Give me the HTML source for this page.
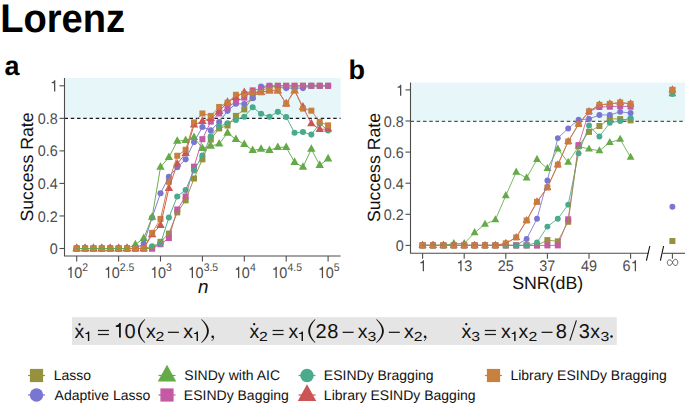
<!DOCTYPE html>
<html><head><meta charset="utf-8"><title>Lorenz</title>
<style>
html,body{margin:0;padding:0;background:#fff;}
body{width:685px;height:407px;overflow:hidden;position:relative;font-family:"Liberation Sans",sans-serif;}
svg{position:absolute;left:0;top:0;display:block;}
</style></head><body>
<svg width="685" height="407" viewBox="0 0 685 407" text-rendering="geometricPrecision">
<style>
text{font-family:"Liberation Sans",sans-serif;}
.tk{font-size:14.5px;fill:#4d4d4d;}
.xl{font-size:16.5px;fill:#111;}
.yl{font-size:17.7px;fill:#111;}
.lg{font-size:14px;fill:#111;}
.eq{font-size:20px;fill:#111;}
</style>
<text transform="translate(0.15 32.4) scale(0.988 1.04)" font-size="38.6" font-weight="bold" fill="#000">Lorenz</text>
<text x="4.5" y="75.1" font-size="26.9" font-weight="bold" fill="#000">a</text>
<text x="348.5" y="78.9" font-size="27" font-weight="bold" fill="#000">b</text>
<rect x="65" y="78" width="275.6" height="40.4" fill="#e7f7f9"/>
<line x1="64.5" y1="118.4" x2="340.6" y2="118.4" stroke="#1a1a1a" stroke-width="1.3" stroke-dasharray="3.5 2.75"/>
<rect x="73.7" y="245.5" width="6" height="6" fill="#96913c"/>
<rect x="82.08" y="245.5" width="6" height="6" fill="#96913c"/>
<rect x="90.46" y="245.5" width="6" height="6" fill="#96913c"/>
<rect x="98.84" y="245.5" width="6" height="6" fill="#96913c"/>
<rect x="107.22" y="245.5" width="6" height="6" fill="#96913c"/>
<rect x="115.6" y="245.5" width="6" height="6" fill="#96913c"/>
<rect x="123.98" y="245.5" width="6" height="6" fill="#96913c"/>
<rect x="132.36" y="245.5" width="6" height="6" fill="#96913c"/>
<rect x="140.74" y="245.5" width="6" height="6" fill="#96913c"/>
<rect x="149.12" y="245.5" width="6" height="6" fill="#96913c"/>
<rect x="157.5" y="238.83" width="6" height="6" fill="#96913c"/>
<rect x="165.88" y="230.53" width="6" height="6" fill="#96913c"/>
<rect x="174.26" y="209.38" width="6" height="6" fill="#96913c"/>
<rect x="182.64" y="197.34" width="6" height="6" fill="#96913c"/>
<rect x="191.02" y="175.54" width="6" height="6" fill="#96913c"/>
<rect x="199.4" y="156.34" width="6" height="6" fill="#96913c"/>
<rect x="207.78" y="136.49" width="6" height="6" fill="#96913c"/>
<rect x="216.16" y="125.43" width="6" height="6" fill="#96913c"/>
<rect x="224.54" y="122.5" width="6" height="6" fill="#96913c"/>
<rect x="232.92" y="112.9" width="6" height="6" fill="#96913c"/>
<rect x="241.3" y="106.39" width="6" height="6" fill="#96913c"/>
<rect x="249.68" y="94.19" width="6" height="6" fill="#96913c"/>
<rect x="258.06" y="87.68" width="6" height="6" fill="#96913c"/>
<rect x="266.44" y="84.43" width="6" height="6" fill="#96913c"/>
<rect x="274.82" y="82.8" width="6" height="6" fill="#96913c"/>
<rect x="283.2" y="82.8" width="6" height="6" fill="#96913c"/>
<rect x="291.58" y="82.8" width="6" height="6" fill="#96913c"/>
<rect x="299.96" y="82.8" width="6" height="6" fill="#96913c"/>
<rect x="308.34" y="82.8" width="6" height="6" fill="#96913c"/>
<rect x="316.72" y="82.8" width="6" height="6" fill="#96913c"/>
<rect x="325.1" y="82.8" width="6" height="6" fill="#96913c"/>
<circle cx="76.7" cy="248.5" r="3.05" fill="#7876d0"/>
<circle cx="85.08" cy="248.5" r="3.05" fill="#7876d0"/>
<circle cx="93.46" cy="248.5" r="3.05" fill="#7876d0"/>
<circle cx="101.84" cy="248.5" r="3.05" fill="#7876d0"/>
<circle cx="110.22" cy="248.5" r="3.05" fill="#7876d0"/>
<circle cx="118.6" cy="248.5" r="3.05" fill="#7876d0"/>
<circle cx="126.98" cy="248.5" r="3.05" fill="#7876d0"/>
<circle cx="135.36" cy="248.5" r="3.05" fill="#7876d0"/>
<circle cx="143.74" cy="243.62" r="3.05" fill="#7876d0"/>
<circle cx="152.12" cy="217.59" r="3.05" fill="#7876d0"/>
<circle cx="160.5" cy="193.18" r="3.05" fill="#7876d0"/>
<circle cx="168.88" cy="176.91" r="3.05" fill="#7876d0"/>
<circle cx="177.26" cy="167.15" r="3.05" fill="#7876d0"/>
<circle cx="185.64" cy="159.34" r="3.05" fill="#7876d0"/>
<circle cx="194.02" cy="142.09" r="3.05" fill="#7876d0"/>
<circle cx="202.4" cy="126.96" r="3.05" fill="#7876d0"/>
<circle cx="210.78" cy="130.38" r="3.05" fill="#7876d0"/>
<circle cx="219.16" cy="122.08" r="3.05" fill="#7876d0"/>
<circle cx="227.54" cy="110.86" r="3.05" fill="#7876d0"/>
<circle cx="235.92" cy="103.7" r="3.05" fill="#7876d0"/>
<circle cx="244.3" cy="104.02" r="3.05" fill="#7876d0"/>
<circle cx="252.68" cy="98.17" r="3.05" fill="#7876d0"/>
<circle cx="261.06" cy="86.45" r="3.05" fill="#7876d0"/>
<circle cx="269.44" cy="85.8" r="3.05" fill="#7876d0"/>
<circle cx="277.82" cy="87.43" r="3.05" fill="#7876d0"/>
<circle cx="286.2" cy="88.08" r="3.05" fill="#7876d0"/>
<circle cx="294.58" cy="88.08" r="3.05" fill="#7876d0"/>
<circle cx="302.96" cy="88.08" r="3.05" fill="#7876d0"/>
<circle cx="311.34" cy="85.8" r="3.05" fill="#7876d0"/>
<circle cx="319.72" cy="85.8" r="3.05" fill="#7876d0"/>
<circle cx="328.1" cy="85.8" r="3.05" fill="#7876d0"/>
<path d="M76.7 243.6L80.9 251.2L72.5 251.2Z" fill="#64aa48"/>
<path d="M85.08 243.6L89.28 251.2L80.88 251.2Z" fill="#64aa48"/>
<path d="M93.46 243.6L97.66 251.2L89.26 251.2Z" fill="#64aa48"/>
<path d="M101.84 243.6L106.04 251.2L97.64 251.2Z" fill="#64aa48"/>
<path d="M110.22 243.6L114.42 251.2L106.02 251.2Z" fill="#64aa48"/>
<path d="M118.6 243.6L122.8 251.2L114.4 251.2Z" fill="#64aa48"/>
<path d="M126.98 243.6L131.18 251.2L122.78 251.2Z" fill="#64aa48"/>
<path d="M135.36 239.7L139.56 247.3L131.16 247.3Z" fill="#64aa48"/>
<path d="M143.74 233.51L147.94 241.11L139.54 241.11Z" fill="#64aa48"/>
<path d="M152.12 212.2L156.32 219.8L147.92 219.8Z" fill="#64aa48"/>
<path d="M160.5 162.25L164.7 169.85L156.3 169.85Z" fill="#64aa48"/>
<path d="M168.88 152.49L173.08 160.09L164.68 160.09Z" fill="#64aa48"/>
<path d="M177.26 136.22L181.46 143.82L173.06 143.82Z" fill="#64aa48"/>
<path d="M185.64 135.4L189.84 143L181.44 143Z" fill="#64aa48"/>
<path d="M194.02 132.48L198.22 140.08L189.82 140.08Z" fill="#64aa48"/>
<path d="M202.4 143.38L206.6 150.98L198.2 150.98Z" fill="#64aa48"/>
<path d="M210.78 141.1L214.98 148.7L206.58 148.7Z" fill="#64aa48"/>
<path d="M219.16 138.98L223.36 146.58L214.96 146.58Z" fill="#64aa48"/>
<path d="M227.54 128.08L231.74 135.68L223.34 135.68Z" fill="#64aa48"/>
<path d="M235.92 134.43L240.12 142.03L231.72 142.03Z" fill="#64aa48"/>
<path d="M244.3 139.47L248.5 147.07L240.1 147.07Z" fill="#64aa48"/>
<path d="M252.68 145.49L256.88 153.09L248.48 153.09Z" fill="#64aa48"/>
<path d="M261.06 144.19L265.26 151.79L256.86 151.79Z" fill="#64aa48"/>
<path d="M269.44 145.49L273.64 153.09L265.24 153.09Z" fill="#64aa48"/>
<path d="M277.82 142.4L282.02 150L273.62 150Z" fill="#64aa48"/>
<path d="M286.2 142.4L290.4 150L282 150Z" fill="#64aa48"/>
<path d="M294.58 157.37L298.78 164.97L290.38 164.97Z" fill="#64aa48"/>
<path d="M302.96 162.25L307.16 169.85L298.76 169.85Z" fill="#64aa48"/>
<path d="M311.34 144.19L315.54 151.79L307.14 151.79Z" fill="#64aa48"/>
<path d="M319.72 160.3L323.92 167.9L315.52 167.9Z" fill="#64aa48"/>
<path d="M328.1 153.79L332.3 161.39L323.9 161.39Z" fill="#64aa48"/>
<rect x="73.7" y="245.5" width="6" height="6" fill="#c45aa5"/>
<rect x="82.08" y="245.5" width="6" height="6" fill="#c45aa5"/>
<rect x="90.46" y="245.5" width="6" height="6" fill="#c45aa5"/>
<rect x="98.84" y="245.5" width="6" height="6" fill="#c45aa5"/>
<rect x="107.22" y="245.5" width="6" height="6" fill="#c45aa5"/>
<rect x="115.6" y="245.5" width="6" height="6" fill="#c45aa5"/>
<rect x="123.98" y="245.5" width="6" height="6" fill="#c45aa5"/>
<rect x="132.36" y="245.5" width="6" height="6" fill="#c45aa5"/>
<rect x="140.74" y="245.5" width="6" height="6" fill="#c45aa5"/>
<rect x="149.12" y="245.5" width="6" height="6" fill="#c45aa5"/>
<rect x="157.5" y="241.27" width="6" height="6" fill="#c45aa5"/>
<rect x="165.88" y="235.09" width="6" height="6" fill="#c45aa5"/>
<rect x="174.26" y="206.45" width="6" height="6" fill="#c45aa5"/>
<rect x="182.64" y="193.44" width="6" height="6" fill="#c45aa5"/>
<rect x="191.02" y="163.66" width="6" height="6" fill="#c45aa5"/>
<rect x="199.4" y="136.17" width="6" height="6" fill="#c45aa5"/>
<rect x="207.78" y="118.59" width="6" height="6" fill="#c45aa5"/>
<rect x="216.16" y="110.46" width="6" height="6" fill="#c45aa5"/>
<rect x="224.54" y="104.76" width="6" height="6" fill="#c45aa5"/>
<rect x="232.92" y="98.42" width="6" height="6" fill="#c45aa5"/>
<rect x="241.3" y="94.68" width="6" height="6" fill="#c45aa5"/>
<rect x="249.68" y="87.36" width="6" height="6" fill="#c45aa5"/>
<rect x="258.06" y="85.57" width="6" height="6" fill="#c45aa5"/>
<rect x="266.44" y="82.8" width="6" height="6" fill="#c45aa5"/>
<rect x="274.82" y="82.8" width="6" height="6" fill="#c45aa5"/>
<rect x="283.2" y="82.8" width="6" height="6" fill="#c45aa5"/>
<rect x="291.58" y="82.8" width="6" height="6" fill="#c45aa5"/>
<rect x="299.96" y="82.8" width="6" height="6" fill="#c45aa5"/>
<rect x="308.34" y="82.8" width="6" height="6" fill="#c45aa5"/>
<rect x="316.72" y="82.8" width="6" height="6" fill="#c45aa5"/>
<rect x="325.1" y="82.8" width="6" height="6" fill="#c45aa5"/>
<circle cx="76.7" cy="248.5" r="3.05" fill="#4aaa8c"/>
<circle cx="85.08" cy="248.5" r="3.05" fill="#4aaa8c"/>
<circle cx="93.46" cy="248.5" r="3.05" fill="#4aaa8c"/>
<circle cx="101.84" cy="248.5" r="3.05" fill="#4aaa8c"/>
<circle cx="110.22" cy="248.5" r="3.05" fill="#4aaa8c"/>
<circle cx="118.6" cy="248.5" r="3.05" fill="#4aaa8c"/>
<circle cx="126.98" cy="248.5" r="3.05" fill="#4aaa8c"/>
<circle cx="135.36" cy="248.5" r="3.05" fill="#4aaa8c"/>
<circle cx="143.74" cy="248.5" r="3.05" fill="#4aaa8c"/>
<circle cx="152.12" cy="246.22" r="3.05" fill="#4aaa8c"/>
<circle cx="160.5" cy="243.62" r="3.05" fill="#4aaa8c"/>
<circle cx="168.88" cy="217.59" r="3.05" fill="#4aaa8c"/>
<circle cx="177.26" cy="196.44" r="3.05" fill="#4aaa8c"/>
<circle cx="185.64" cy="189.93" r="3.05" fill="#4aaa8c"/>
<circle cx="194.02" cy="170.4" r="3.05" fill="#4aaa8c"/>
<circle cx="202.4" cy="155.6" r="3.05" fill="#4aaa8c"/>
<circle cx="210.78" cy="136.24" r="3.05" fill="#4aaa8c"/>
<circle cx="219.16" cy="126.48" r="3.05" fill="#4aaa8c"/>
<circle cx="227.54" cy="123.22" r="3.05" fill="#4aaa8c"/>
<circle cx="235.92" cy="119.97" r="3.05" fill="#4aaa8c"/>
<circle cx="244.3" cy="116.71" r="3.05" fill="#4aaa8c"/>
<circle cx="252.68" cy="107.28" r="3.05" fill="#4aaa8c"/>
<circle cx="261.06" cy="113.78" r="3.05" fill="#4aaa8c"/>
<circle cx="269.44" cy="116.71" r="3.05" fill="#4aaa8c"/>
<circle cx="277.82" cy="111.83" r="3.05" fill="#4aaa8c"/>
<circle cx="286.2" cy="117.04" r="3.05" fill="#4aaa8c"/>
<circle cx="294.58" cy="132.82" r="3.05" fill="#4aaa8c"/>
<circle cx="302.96" cy="132.01" r="3.05" fill="#4aaa8c"/>
<circle cx="311.34" cy="134.61" r="3.05" fill="#4aaa8c"/>
<circle cx="319.72" cy="123.55" r="3.05" fill="#4aaa8c"/>
<circle cx="328.1" cy="130.38" r="3.05" fill="#4aaa8c"/>
<path d="M76.7 243.6L80.9 251.2L72.5 251.2Z" fill="#cc5454"/>
<path d="M85.08 243.6L89.28 251.2L80.88 251.2Z" fill="#cc5454"/>
<path d="M93.46 243.6L97.66 251.2L89.26 251.2Z" fill="#cc5454"/>
<path d="M101.84 243.6L106.04 251.2L97.64 251.2Z" fill="#cc5454"/>
<path d="M110.22 243.6L114.42 251.2L106.02 251.2Z" fill="#cc5454"/>
<path d="M118.6 243.6L122.8 251.2L114.4 251.2Z" fill="#cc5454"/>
<path d="M126.98 243.6L131.18 251.2L122.78 251.2Z" fill="#cc5454"/>
<path d="M135.36 243.6L139.56 251.2L131.16 251.2Z" fill="#cc5454"/>
<path d="M143.74 243.6L147.94 251.2L139.54 251.2Z" fill="#cc5454"/>
<path d="M152.12 229.61L156.32 237.21L147.92 237.21Z" fill="#cc5454"/>
<path d="M160.5 220.33L164.7 227.93L156.3 227.93Z" fill="#cc5454"/>
<path d="M168.88 183.4L173.08 191L164.68 191Z" fill="#cc5454"/>
<path d="M177.26 159L181.46 166.6L173.06 166.6Z" fill="#cc5454"/>
<path d="M185.64 148.42L189.84 156.02L181.44 156.02Z" fill="#cc5454"/>
<path d="M194.02 119.95L198.22 127.55L189.82 127.55Z" fill="#cc5454"/>
<path d="M202.4 116.37L206.6 123.97L198.2 123.97Z" fill="#cc5454"/>
<path d="M210.78 113.44L214.98 121.04L206.58 121.04Z" fill="#cc5454"/>
<path d="M219.16 106.44L223.36 114.04L214.96 114.04Z" fill="#cc5454"/>
<path d="M227.54 97.17L231.74 104.77L223.34 104.77Z" fill="#cc5454"/>
<path d="M235.92 92.29L240.12 99.89L231.72 99.89Z" fill="#cc5454"/>
<path d="M244.3 87.41L248.5 95.01L240.1 95.01Z" fill="#cc5454"/>
<path d="M252.68 87.41L256.88 95.01L248.48 95.01Z" fill="#cc5454"/>
<path d="M261.06 87.41L265.26 95.01L256.86 95.01Z" fill="#cc5454"/>
<path d="M269.44 85.78L273.64 93.38L265.24 93.38Z" fill="#cc5454"/>
<path d="M277.82 85.78L282.02 93.38L273.62 93.38Z" fill="#cc5454"/>
<path d="M286.2 98.8L290.4 106.4L282 106.4Z" fill="#cc5454"/>
<path d="M294.58 85.78L298.78 93.38L290.38 93.38Z" fill="#cc5454"/>
<path d="M302.96 102.05L307.16 109.65L298.76 109.65Z" fill="#cc5454"/>
<path d="M311.34 118.65L315.54 126.25L307.14 126.25Z" fill="#cc5454"/>
<path d="M319.72 124.5L323.92 132.1L315.52 132.1Z" fill="#cc5454"/>
<path d="M328.1 124.02L332.3 131.62L323.9 131.62Z" fill="#cc5454"/>
<rect x="73.7" y="245.5" width="6" height="6" fill="#c8803e"/>
<rect x="82.08" y="245.5" width="6" height="6" fill="#c8803e"/>
<rect x="90.46" y="245.5" width="6" height="6" fill="#c8803e"/>
<rect x="98.84" y="245.5" width="6" height="6" fill="#c8803e"/>
<rect x="107.22" y="245.5" width="6" height="6" fill="#c8803e"/>
<rect x="115.6" y="245.5" width="6" height="6" fill="#c8803e"/>
<rect x="123.98" y="245.5" width="6" height="6" fill="#c8803e"/>
<rect x="132.36" y="245.5" width="6" height="6" fill="#c8803e"/>
<rect x="140.74" y="245.5" width="6" height="6" fill="#c8803e"/>
<rect x="149.12" y="229.88" width="6" height="6" fill="#c8803e"/>
<rect x="157.5" y="215.89" width="6" height="6" fill="#c8803e"/>
<rect x="165.88" y="178.79" width="6" height="6" fill="#c8803e"/>
<rect x="174.26" y="152.76" width="6" height="6" fill="#c8803e"/>
<rect x="182.64" y="146.74" width="6" height="6" fill="#c8803e"/>
<rect x="191.02" y="119.41" width="6" height="6" fill="#c8803e"/>
<rect x="199.4" y="110.46" width="6" height="6" fill="#c8803e"/>
<rect x="207.78" y="112.9" width="6" height="6" fill="#c8803e"/>
<rect x="216.16" y="103.95" width="6" height="6" fill="#c8803e"/>
<rect x="224.54" y="99.72" width="6" height="6" fill="#c8803e"/>
<rect x="232.92" y="91.75" width="6" height="6" fill="#c8803e"/>
<rect x="241.3" y="90.94" width="6" height="6" fill="#c8803e"/>
<rect x="249.68" y="89.31" width="6" height="6" fill="#c8803e"/>
<rect x="258.06" y="89.31" width="6" height="6" fill="#c8803e"/>
<rect x="266.44" y="87.36" width="6" height="6" fill="#c8803e"/>
<rect x="274.82" y="87.36" width="6" height="6" fill="#c8803e"/>
<rect x="283.2" y="100.86" width="6" height="6" fill="#c8803e"/>
<rect x="291.58" y="87.03" width="6" height="6" fill="#c8803e"/>
<rect x="299.96" y="105.58" width="6" height="6" fill="#c8803e"/>
<rect x="308.34" y="107.69" width="6" height="6" fill="#c8803e"/>
<rect x="316.72" y="118.92" width="6" height="6" fill="#c8803e"/>
<rect x="325.1" y="122.34" width="6" height="6" fill="#c8803e"/>
<polyline points="76.7,248.5 85.08,248.5 93.46,248.5 101.84,248.5 110.22,248.5 118.6,248.5 126.98,248.5 135.36,248.5 143.74,243.62 152.12,217.59 160.5,193.18 168.88,176.91 177.26,167.15 185.64,159.34 194.02,142.09 202.4,126.96 210.78,130.38 219.16,122.08 227.54,110.86 235.92,103.7 244.3,104.02 252.68,98.17 261.06,86.45 269.44,85.8 277.82,87.43 286.2,88.08 294.58,88.08 302.96,88.08 311.34,85.8 319.72,85.8 328.1,85.8" fill="none" stroke="#7876d0" stroke-width="0.95" stroke-linejoin="round"/>
<polyline points="76.7,248.5 85.08,248.5 93.46,248.5 101.84,248.5 110.22,248.5 118.6,248.5 126.98,248.5 135.36,248.5 143.74,248.5 152.12,248.5 160.5,244.27 168.88,238.09 177.26,209.45 185.64,196.44 194.02,166.66 202.4,139.17 210.78,121.59 219.16,113.46 227.54,107.76 235.92,101.42 244.3,97.68 252.68,90.36 261.06,88.57 269.44,85.8 277.82,85.8 286.2,85.8 294.58,85.8 302.96,85.8 311.34,85.8 319.72,85.8 328.1,85.8" fill="none" stroke="#c45aa5" stroke-width="0.95" stroke-linejoin="round"/>
<polyline points="76.7,248.5 85.08,248.5 93.46,248.5 101.84,248.5 110.22,248.5 118.6,248.5 126.98,248.5 135.36,248.5 143.74,248.5 152.12,246.22 160.5,243.62 168.88,217.59 177.26,196.44 185.64,189.93 194.02,170.4 202.4,155.6 210.78,136.24 219.16,126.48 227.54,123.22 235.92,119.97 244.3,116.71 252.68,107.28 261.06,113.78 269.44,116.71 277.82,111.83 286.2,117.04 294.58,132.82 302.96,132.01 311.34,134.61 319.72,123.55 328.1,130.38" fill="none" stroke="#4aaa8c" stroke-width="0.95" stroke-linejoin="round"/>
<polyline points="76.7,248.5 85.08,248.5 93.46,248.5 101.84,248.5 110.22,248.5 118.6,248.5 126.98,248.5 135.36,248.5 143.74,248.5 152.12,248.5 160.5,241.83 168.88,233.53 177.26,212.38 185.64,200.34 194.02,178.54 202.4,159.34 210.78,139.49 219.16,128.43 227.54,125.5 235.92,115.9 244.3,109.39 252.68,97.19 261.06,90.68 269.44,87.43 277.82,85.8 286.2,85.8 294.58,85.8 302.96,85.8 311.34,85.8 319.72,85.8 328.1,85.8" fill="none" stroke="#96913c" stroke-width="0.95" stroke-linejoin="round"/>
<polyline points="76.7,248.5 85.08,248.5 93.46,248.5 101.84,248.5 110.22,248.5 118.6,248.5 126.98,248.5 135.36,248.5 143.74,248.5 152.12,234.51 160.5,225.23 168.88,188.3 177.26,163.9 185.64,153.32 194.02,124.85 202.4,121.27 210.78,118.34 219.16,111.34 227.54,102.07 235.92,97.19 244.3,92.31 252.68,92.31 261.06,92.31 269.44,90.68 277.82,90.68 286.2,103.7 294.58,90.68 302.96,106.95 311.34,123.55 319.72,129.4 328.1,128.92" fill="none" stroke="#cc5454" stroke-width="0.95" stroke-linejoin="round"/>
<polyline points="76.7,248.5 85.08,248.5 93.46,248.5 101.84,248.5 110.22,248.5 118.6,248.5 126.98,248.5 135.36,248.5 143.74,248.5 152.12,232.88 160.5,218.89 168.88,181.79 177.26,155.76 185.64,149.74 194.02,122.41 202.4,113.46 210.78,115.9 219.16,106.95 227.54,102.72 235.92,94.75 244.3,93.94 252.68,92.31 261.06,92.31 269.44,90.36 277.82,90.36 286.2,103.86 294.58,90.03 302.96,108.58 311.34,110.69 319.72,121.92 328.1,125.34" fill="none" stroke="#c8803e" stroke-width="0.95" stroke-linejoin="round"/>
<polyline points="76.7,248.5 85.08,248.5 93.46,248.5 101.84,248.5 110.22,248.5 118.6,248.5 126.98,248.5 135.36,244.6 143.74,238.41 152.12,217.1 160.5,167.15 168.88,157.39 177.26,141.12 185.64,140.3 194.02,137.38 202.4,148.28 210.78,146 219.16,143.88 227.54,132.98 235.92,139.33 244.3,144.37 252.68,150.39 261.06,149.09 269.44,150.39 277.82,147.3 286.2,147.3 294.58,162.27 302.96,167.15 311.34,149.09 319.72,165.2 328.1,158.69" fill="none" stroke="#64aa48" stroke-width="0.95" stroke-linejoin="round"/>
<path d="M64.5 78V256H340.6" fill="none" stroke="#4d4d4d" stroke-width="1.1"/>
<line x1="59.5" y1="248.5" x2="64.5" y2="248.5" stroke="#4d4d4d" stroke-width="1.1"/>
<text transform="translate(49.86 254.1) scale(0.94 1)" font-size="15.3" fill="#4d4d4d">0</text>
<line x1="59.5" y1="215.96" x2="64.5" y2="215.96" stroke="#4d4d4d" stroke-width="1.1"/>
<text transform="translate(37.8 221.56) scale(0.94 1)" font-size="15.3" fill="#4d4d4d">0.2</text>
<line x1="59.5" y1="183.42" x2="64.5" y2="183.42" stroke="#4d4d4d" stroke-width="1.1"/>
<text transform="translate(37.8 189.02) scale(0.94 1)" font-size="15.3" fill="#4d4d4d">0.4</text>
<line x1="59.5" y1="150.88" x2="64.5" y2="150.88" stroke="#4d4d4d" stroke-width="1.1"/>
<text transform="translate(37.8 156.48) scale(0.94 1)" font-size="15.3" fill="#4d4d4d">0.6</text>
<line x1="59.5" y1="118.34" x2="64.5" y2="118.34" stroke="#4d4d4d" stroke-width="1.1"/>
<text transform="translate(37.8 123.94) scale(0.94 1)" font-size="15.3" fill="#4d4d4d">0.8</text>
<line x1="59.5" y1="85.8" x2="64.5" y2="85.8" stroke="#4d4d4d" stroke-width="1.1"/>
<path transform="translate(49.86 91.4) scale(14.46 15.3)" d="M0.125 -0.532L0.125 -0.602C0.205 -0.604 0.283 -0.64 0.298 -0.725L0.376 -0.725L0.376 0L0.287 0L0.287 -0.532Z" fill="#4d4d4d"/><text transform="translate(49.86 91.4) scale(0.94 1)" font-size="15.3" fill="#4d4d4d"> </text>
<line x1="76.7" y1="256" x2="76.7" y2="261.5" stroke="#4d4d4d" stroke-width="1.1"/>
<path transform="translate(66.24 277.9) scale(14.46 15.3)" d="M0.125 -0.532L0.125 -0.602C0.205 -0.604 0.283 -0.64 0.298 -0.725L0.376 -0.725L0.376 0L0.287 0L0.287 -0.532Z" fill="#4d4d4d"/><text transform="translate(66.24 277.9) scale(0.94 1)" font-size="15.3" fill="#4d4d4d"> 0</text>
<text transform="translate(82.32 270.8) scale(0.94 1)" font-size="11.1" fill="#4d4d4d">2</text>
<line x1="118.6" y1="256" x2="118.6" y2="261.5" stroke="#4d4d4d" stroke-width="1.1"/>
<path transform="translate(103.77 277.9) scale(14.46 15.3)" d="M0.125 -0.532L0.125 -0.602C0.205 -0.604 0.283 -0.64 0.298 -0.725L0.376 -0.725L0.376 0L0.287 0L0.287 -0.532Z" fill="#4d4d4d"/><text transform="translate(103.77 277.9) scale(0.94 1)" font-size="15.3" fill="#4d4d4d"> 0</text>
<text transform="translate(119.85 270.8) scale(0.94 1)" font-size="11.1" fill="#4d4d4d">2.5</text>
<line x1="160.5" y1="256" x2="160.5" y2="261.5" stroke="#4d4d4d" stroke-width="1.1"/>
<path transform="translate(150.04 277.9) scale(14.46 15.3)" d="M0.125 -0.532L0.125 -0.602C0.205 -0.604 0.283 -0.64 0.298 -0.725L0.376 -0.725L0.376 0L0.287 0L0.287 -0.532Z" fill="#4d4d4d"/><text transform="translate(150.04 277.9) scale(0.94 1)" font-size="15.3" fill="#4d4d4d"> 0</text>
<text transform="translate(166.12 270.8) scale(0.94 1)" font-size="11.1" fill="#4d4d4d">3</text>
<line x1="202.4" y1="256" x2="202.4" y2="261.5" stroke="#4d4d4d" stroke-width="1.1"/>
<path transform="translate(187.57 277.9) scale(14.46 15.3)" d="M0.125 -0.532L0.125 -0.602C0.205 -0.604 0.283 -0.64 0.298 -0.725L0.376 -0.725L0.376 0L0.287 0L0.287 -0.532Z" fill="#4d4d4d"/><text transform="translate(187.57 277.9) scale(0.94 1)" font-size="15.3" fill="#4d4d4d"> 0</text>
<text transform="translate(203.65 270.8) scale(0.94 1)" font-size="11.1" fill="#4d4d4d">3.5</text>
<line x1="244.3" y1="256" x2="244.3" y2="261.5" stroke="#4d4d4d" stroke-width="1.1"/>
<path transform="translate(233.84 277.9) scale(14.46 15.3)" d="M0.125 -0.532L0.125 -0.602C0.205 -0.604 0.283 -0.64 0.298 -0.725L0.376 -0.725L0.376 0L0.287 0L0.287 -0.532Z" fill="#4d4d4d"/><text transform="translate(233.84 277.9) scale(0.94 1)" font-size="15.3" fill="#4d4d4d"> 0</text>
<text transform="translate(249.92 270.8) scale(0.94 1)" font-size="11.1" fill="#4d4d4d">4</text>
<line x1="286.2" y1="256" x2="286.2" y2="261.5" stroke="#4d4d4d" stroke-width="1.1"/>
<path transform="translate(271.37 277.9) scale(14.46 15.3)" d="M0.125 -0.532L0.125 -0.602C0.205 -0.604 0.283 -0.64 0.298 -0.725L0.376 -0.725L0.376 0L0.287 0L0.287 -0.532Z" fill="#4d4d4d"/><text transform="translate(271.37 277.9) scale(0.94 1)" font-size="15.3" fill="#4d4d4d"> 0</text>
<text transform="translate(287.45 270.8) scale(0.94 1)" font-size="11.1" fill="#4d4d4d">4.5</text>
<line x1="328.1" y1="256" x2="328.1" y2="261.5" stroke="#4d4d4d" stroke-width="1.1"/>
<path transform="translate(317.64 277.9) scale(14.46 15.3)" d="M0.125 -0.532L0.125 -0.602C0.205 -0.604 0.283 -0.64 0.298 -0.725L0.376 -0.725L0.376 0L0.287 0L0.287 -0.532Z" fill="#4d4d4d"/><text transform="translate(317.64 277.9) scale(0.94 1)" font-size="15.3" fill="#4d4d4d"> 0</text>
<text transform="translate(333.72 270.8) scale(0.94 1)" font-size="11.1" fill="#4d4d4d">5</text>
<text x="203.3" y="293" text-anchor="middle" class="xl" style="font-style:italic;font-size:18.8px">n</text>
<text transform="translate(33.0,167.0) rotate(-90)" text-anchor="middle" class="yl">Success Rate</text>
<rect x="411" y="82.5" width="274.5" height="38.8" fill="#e7f7f9"/>
<line x1="410.5" y1="121.3" x2="685" y2="121.3" stroke="#555" stroke-width="1.2" stroke-dasharray="3.5 2.75"/>
<rect x="419.6" y="242.4" width="6" height="6" fill="#96913c"/>
<rect x="430" y="242.4" width="6" height="6" fill="#96913c"/>
<rect x="440.4" y="242.4" width="6" height="6" fill="#96913c"/>
<rect x="450.8" y="242.4" width="6" height="6" fill="#96913c"/>
<rect x="461.2" y="242.4" width="6" height="6" fill="#96913c"/>
<rect x="471.6" y="242.4" width="6" height="6" fill="#96913c"/>
<rect x="482" y="242.4" width="6" height="6" fill="#96913c"/>
<rect x="492.4" y="242.4" width="6" height="6" fill="#96913c"/>
<rect x="502.8" y="242.4" width="6" height="6" fill="#96913c"/>
<rect x="513.2" y="242.4" width="6" height="6" fill="#96913c"/>
<rect x="523.6" y="242.4" width="6" height="6" fill="#96913c"/>
<rect x="534" y="242.4" width="6" height="6" fill="#96913c"/>
<rect x="544.4" y="237.11" width="6" height="6" fill="#96913c"/>
<rect x="554.8" y="238.36" width="6" height="6" fill="#96913c"/>
<rect x="565.2" y="218.76" width="6" height="6" fill="#96913c"/>
<rect x="575.6" y="142.88" width="6" height="6" fill="#96913c"/>
<rect x="586" y="128.88" width="6" height="6" fill="#96913c"/>
<rect x="596.4" y="122.98" width="6" height="6" fill="#96913c"/>
<rect x="606.8" y="115.67" width="6" height="6" fill="#96913c"/>
<rect x="617.2" y="116.13" width="6" height="6" fill="#96913c"/>
<rect x="627.6" y="117.38" width="6" height="6" fill="#96913c"/>
<rect x="669.4" y="238.05" width="6" height="6" fill="#96913c"/>
<circle cx="422.6" cy="245.4" r="2.95" fill="#7876d0"/>
<circle cx="433" cy="245.4" r="2.95" fill="#7876d0"/>
<circle cx="443.4" cy="245.4" r="2.95" fill="#7876d0"/>
<circle cx="453.8" cy="245.4" r="2.95" fill="#7876d0"/>
<circle cx="464.2" cy="245.4" r="2.95" fill="#7876d0"/>
<circle cx="474.6" cy="245.4" r="2.95" fill="#7876d0"/>
<circle cx="485" cy="245.4" r="2.95" fill="#7876d0"/>
<circle cx="495.4" cy="245.4" r="2.95" fill="#7876d0"/>
<circle cx="505.8" cy="245.4" r="2.95" fill="#7876d0"/>
<circle cx="516.2" cy="245.4" r="2.95" fill="#7876d0"/>
<circle cx="526.6" cy="239.02" r="2.95" fill="#7876d0"/>
<circle cx="537" cy="218.81" r="2.95" fill="#7876d0"/>
<circle cx="547.4" cy="180.4" r="2.95" fill="#7876d0"/>
<circle cx="557.8" cy="138.11" r="2.95" fill="#7876d0"/>
<circle cx="568.2" cy="128.46" r="2.95" fill="#7876d0"/>
<circle cx="578.6" cy="119.76" r="2.95" fill="#7876d0"/>
<circle cx="589" cy="118.98" r="2.95" fill="#7876d0"/>
<circle cx="599.4" cy="114.94" r="2.95" fill="#7876d0"/>
<circle cx="609.8" cy="114.94" r="2.95" fill="#7876d0"/>
<circle cx="620.2" cy="111.83" r="2.95" fill="#7876d0"/>
<circle cx="630.6" cy="113.07" r="2.95" fill="#7876d0"/>
<circle cx="672.4" cy="206.68" r="2.95" fill="#7876d0"/>
<path d="M422.6 240.84L426.51 247.91L418.69 247.91Z" fill="#64aa48"/>
<path d="M433 240.84L436.91 247.91L429.09 247.91Z" fill="#64aa48"/>
<path d="M443.4 240.84L447.31 247.91L439.49 247.91Z" fill="#64aa48"/>
<path d="M453.8 238.98L457.71 246.04L449.89 246.04Z" fill="#64aa48"/>
<path d="M464.2 238.98L468.11 246.04L460.29 246.04Z" fill="#64aa48"/>
<path d="M474.6 228.09L478.51 235.16L470.69 235.16Z" fill="#64aa48"/>
<path d="M485 219.7L488.91 226.76L481.09 226.76Z" fill="#64aa48"/>
<path d="M495.4 215.19L499.31 222.25L491.49 222.25Z" fill="#64aa48"/>
<path d="M505.8 191.08L509.71 198.15L501.89 198.15Z" fill="#64aa48"/>
<path d="M516.2 167.6L520.11 174.67L512.29 174.67Z" fill="#64aa48"/>
<path d="M526.6 173.36L530.51 180.42L522.69 180.42Z" fill="#64aa48"/>
<path d="M537 154.85L540.91 161.92L533.09 161.92Z" fill="#64aa48"/>
<path d="M547.4 164.03L551.31 171.09L543.49 171.09Z" fill="#64aa48"/>
<path d="M557.8 144.43L561.71 151.5L553.89 151.5Z" fill="#64aa48"/>
<path d="M568.2 157.81L572.11 164.87L564.29 164.87Z" fill="#64aa48"/>
<path d="M578.6 141.79L582.51 148.86L574.69 148.86Z" fill="#64aa48"/>
<path d="M589 144.43L592.91 151.5L585.09 151.5Z" fill="#64aa48"/>
<path d="M599.4 146.14L603.31 153.21L595.49 153.21Z" fill="#64aa48"/>
<path d="M609.8 137.9L613.71 144.97L605.89 144.97Z" fill="#64aa48"/>
<path d="M620.2 134.79L624.11 141.86L616.29 141.86Z" fill="#64aa48"/>
<path d="M630.6 152.67L634.51 159.74L626.69 159.74Z" fill="#64aa48"/>
<path d="M672.4 89.23L676.31 96.3L668.49 96.3Z" fill="#64aa48"/>
<rect x="419.6" y="242.4" width="6" height="6" fill="#c45aa5"/>
<rect x="430" y="242.4" width="6" height="6" fill="#c45aa5"/>
<rect x="440.4" y="242.4" width="6" height="6" fill="#c45aa5"/>
<rect x="450.8" y="242.4" width="6" height="6" fill="#c45aa5"/>
<rect x="461.2" y="242.4" width="6" height="6" fill="#c45aa5"/>
<rect x="471.6" y="242.4" width="6" height="6" fill="#c45aa5"/>
<rect x="482" y="242.4" width="6" height="6" fill="#c45aa5"/>
<rect x="492.4" y="242.4" width="6" height="6" fill="#c45aa5"/>
<rect x="502.8" y="242.4" width="6" height="6" fill="#c45aa5"/>
<rect x="513.2" y="242.4" width="6" height="6" fill="#c45aa5"/>
<rect x="523.6" y="242.4" width="6" height="6" fill="#c45aa5"/>
<rect x="534" y="242.4" width="6" height="6" fill="#c45aa5"/>
<rect x="544.4" y="242.4" width="6" height="6" fill="#c45aa5"/>
<rect x="554.8" y="242.4" width="6" height="6" fill="#c45aa5"/>
<rect x="565.2" y="216.28" width="6" height="6" fill="#c45aa5"/>
<rect x="575.6" y="142.1" width="6" height="6" fill="#c45aa5"/>
<rect x="586" y="108.67" width="6" height="6" fill="#c45aa5"/>
<rect x="596.4" y="104" width="6" height="6" fill="#c45aa5"/>
<rect x="606.8" y="103.69" width="6" height="6" fill="#c45aa5"/>
<rect x="617.2" y="103.23" width="6" height="6" fill="#c45aa5"/>
<rect x="627.6" y="103.69" width="6" height="6" fill="#c45aa5"/>
<rect x="669.4" y="86.9" width="6" height="6" fill="#c45aa5"/>
<circle cx="422.6" cy="245.4" r="2.95" fill="#4aaa8c"/>
<circle cx="433" cy="245.4" r="2.95" fill="#4aaa8c"/>
<circle cx="443.4" cy="245.4" r="2.95" fill="#4aaa8c"/>
<circle cx="453.8" cy="245.4" r="2.95" fill="#4aaa8c"/>
<circle cx="464.2" cy="245.4" r="2.95" fill="#4aaa8c"/>
<circle cx="474.6" cy="245.4" r="2.95" fill="#4aaa8c"/>
<circle cx="485" cy="245.4" r="2.95" fill="#4aaa8c"/>
<circle cx="495.4" cy="245.4" r="2.95" fill="#4aaa8c"/>
<circle cx="505.8" cy="245.4" r="2.95" fill="#4aaa8c"/>
<circle cx="516.2" cy="245.4" r="2.95" fill="#4aaa8c"/>
<circle cx="526.6" cy="245.4" r="2.95" fill="#4aaa8c"/>
<circle cx="537" cy="242.45" r="2.95" fill="#4aaa8c"/>
<circle cx="547.4" cy="226.58" r="2.95" fill="#4aaa8c"/>
<circle cx="557.8" cy="218.81" r="2.95" fill="#4aaa8c"/>
<circle cx="568.2" cy="204.66" r="2.95" fill="#4aaa8c"/>
<circle cx="578.6" cy="153.34" r="2.95" fill="#4aaa8c"/>
<circle cx="589" cy="125.51" r="2.95" fill="#4aaa8c"/>
<circle cx="599.4" cy="136.55" r="2.95" fill="#4aaa8c"/>
<circle cx="609.8" cy="122.87" r="2.95" fill="#4aaa8c"/>
<circle cx="620.2" cy="121" r="2.95" fill="#4aaa8c"/>
<circle cx="630.6" cy="118.05" r="2.95" fill="#4aaa8c"/>
<circle cx="672.4" cy="93.94" r="2.95" fill="#4aaa8c"/>
<path d="M422.6 240.84L426.51 247.91L418.69 247.91Z" fill="#cc5454"/>
<path d="M433 240.84L436.91 247.91L429.09 247.91Z" fill="#cc5454"/>
<path d="M443.4 240.84L447.31 247.91L439.49 247.91Z" fill="#cc5454"/>
<path d="M453.8 240.84L457.71 247.91L449.89 247.91Z" fill="#cc5454"/>
<path d="M464.2 240.84L468.11 247.91L460.29 247.91Z" fill="#cc5454"/>
<path d="M474.6 240.84L478.51 247.91L470.69 247.91Z" fill="#cc5454"/>
<path d="M485 240.84L488.91 247.91L481.09 247.91Z" fill="#cc5454"/>
<path d="M495.4 240.84L499.31 247.91L491.49 247.91Z" fill="#cc5454"/>
<path d="M505.8 238.82L509.71 245.89L501.89 245.89Z" fill="#cc5454"/>
<path d="M516.2 232.91L520.11 239.98L512.29 239.98Z" fill="#cc5454"/>
<path d="M526.6 215.96L530.51 223.03L522.69 223.03Z" fill="#cc5454"/>
<path d="M537 197.3L540.91 204.37L533.09 204.37Z" fill="#cc5454"/>
<path d="M547.4 183L551.31 190.06L543.49 190.06Z" fill="#cc5454"/>
<path d="M557.8 160.14L561.71 167.21L553.89 167.21Z" fill="#cc5454"/>
<path d="M568.2 136.97L572.11 144.04L564.29 144.04Z" fill="#cc5454"/>
<path d="M578.6 119.55L582.51 126.62L574.69 126.62Z" fill="#cc5454"/>
<path d="M589 106.96L592.91 114.03L585.09 114.03Z" fill="#cc5454"/>
<path d="M599.4 100.27L603.31 107.34L595.49 107.34Z" fill="#cc5454"/>
<path d="M609.8 99.34L613.71 106.41L605.89 106.41Z" fill="#cc5454"/>
<path d="M620.2 97.94L624.11 105.01L616.29 105.01Z" fill="#cc5454"/>
<path d="M630.6 99.34L634.51 106.41L626.69 106.41Z" fill="#cc5454"/>
<path d="M672.4 85.34L676.31 92.41L668.49 92.41Z" fill="#cc5454"/>
<rect x="419.6" y="242.4" width="6" height="6" fill="#c8803e"/>
<rect x="430" y="242.4" width="6" height="6" fill="#c8803e"/>
<rect x="440.4" y="242.4" width="6" height="6" fill="#c8803e"/>
<rect x="450.8" y="242.4" width="6" height="6" fill="#c8803e"/>
<rect x="461.2" y="242.4" width="6" height="6" fill="#c8803e"/>
<rect x="471.6" y="242.4" width="6" height="6" fill="#c8803e"/>
<rect x="482" y="242.4" width="6" height="6" fill="#c8803e"/>
<rect x="492.4" y="242.4" width="6" height="6" fill="#c8803e"/>
<rect x="502.8" y="240.38" width="6" height="6" fill="#c8803e"/>
<rect x="513.2" y="234.47" width="6" height="6" fill="#c8803e"/>
<rect x="523.6" y="217.52" width="6" height="6" fill="#c8803e"/>
<rect x="534" y="198.86" width="6" height="6" fill="#c8803e"/>
<rect x="544.4" y="184.55" width="6" height="6" fill="#c8803e"/>
<rect x="554.8" y="161.7" width="6" height="6" fill="#c8803e"/>
<rect x="565.2" y="138.53" width="6" height="6" fill="#c8803e"/>
<rect x="575.6" y="121.11" width="6" height="6" fill="#c8803e"/>
<rect x="586" y="108.51" width="6" height="6" fill="#c8803e"/>
<rect x="596.4" y="101.83" width="6" height="6" fill="#c8803e"/>
<rect x="606.8" y="100.9" width="6" height="6" fill="#c8803e"/>
<rect x="617.2" y="99.5" width="6" height="6" fill="#c8803e"/>
<rect x="627.6" y="100.9" width="6" height="6" fill="#c8803e"/>
<rect x="669.4" y="86.9" width="6" height="6" fill="#c8803e"/>
<polyline points="422.6,245.4 433,245.4 443.4,245.4 453.8,245.4 464.2,245.4 474.6,245.4 485,245.4 495.4,245.4 505.8,245.4 516.2,245.4 526.6,239.02 537,218.81 547.4,180.4 557.8,138.11 568.2,128.46 578.6,119.76 589,118.98 599.4,114.94 609.8,114.94 620.2,111.83 630.6,113.07" fill="none" stroke="#7876d0" stroke-width="0.85" stroke-linejoin="round"/>
<polyline points="422.6,245.4 433,245.4 443.4,245.4 453.8,245.4 464.2,245.4 474.6,245.4 485,245.4 495.4,245.4 505.8,245.4 516.2,245.4 526.6,245.4 537,245.4 547.4,245.4 557.8,245.4 568.2,219.28 578.6,145.1 589,111.67 599.4,107 609.8,106.69 620.2,106.23 630.6,106.69" fill="none" stroke="#c45aa5" stroke-width="0.85" stroke-linejoin="round"/>
<polyline points="422.6,245.4 433,245.4 443.4,245.4 453.8,245.4 464.2,245.4 474.6,245.4 485,245.4 495.4,245.4 505.8,245.4 516.2,245.4 526.6,245.4 537,242.45 547.4,226.58 557.8,218.81 568.2,204.66 578.6,153.34 589,125.51 599.4,136.55 609.8,122.87 620.2,121 630.6,118.05" fill="none" stroke="#4aaa8c" stroke-width="0.85" stroke-linejoin="round"/>
<polyline points="422.6,245.4 433,245.4 443.4,245.4 453.8,245.4 464.2,245.4 474.6,245.4 485,245.4 495.4,245.4 505.8,245.4 516.2,245.4 526.6,245.4 537,245.4 547.4,240.11 557.8,241.36 568.2,221.76 578.6,145.88 589,131.88 599.4,125.98 609.8,118.67 620.2,119.13 630.6,120.38" fill="none" stroke="#96913c" stroke-width="0.85" stroke-linejoin="round"/>
<polyline points="422.6,245.4 433,245.4 443.4,245.4 453.8,245.4 464.2,245.4 474.6,245.4 485,245.4 495.4,245.4 505.8,243.38 516.2,237.47 526.6,220.52 537,201.86 547.4,187.55 557.8,164.7 568.2,141.53 578.6,124.11 589,111.51 599.4,104.83 609.8,103.9 620.2,102.5 630.6,103.9" fill="none" stroke="#cc5454" stroke-width="0.85" stroke-linejoin="round"/>
<polyline points="422.6,245.4 433,245.4 443.4,245.4 453.8,245.4 464.2,245.4 474.6,245.4 485,245.4 495.4,245.4 505.8,243.38 516.2,237.47 526.6,220.52 537,201.86 547.4,187.55 557.8,164.7 568.2,141.53 578.6,124.11 589,111.51 599.4,104.83 609.8,103.9 620.2,102.5 630.6,103.9" fill="none" stroke="#c8803e" stroke-width="0.85" stroke-linejoin="round"/>
<polyline points="422.6,245.4 433,245.4 443.4,245.4 453.8,243.53 464.2,243.53 474.6,232.65 485,224.25 495.4,219.74 505.8,195.64 516.2,172.16 526.6,177.91 537,159.41 547.4,168.58 557.8,148.99 568.2,162.36 578.6,146.35 589,148.99 599.4,150.7 609.8,142.46 620.2,139.35 630.6,157.23" fill="none" stroke="#64aa48" stroke-width="0.85" stroke-linejoin="round"/>
<path d="M410.5 82.5V253.3H648.4" fill="none" stroke="#4d4d4d" stroke-width="1.1"/>
<path d="M662.6 253.3H685" fill="none" stroke="#4d4d4d" stroke-width="1.1"/>
<path d="M649.8 246L646.4 260.7M663.6 246L660.4 260.7" stroke="#111" stroke-width="1.1"/>
<line x1="405.5" y1="245.4" x2="410.5" y2="245.4" stroke="#4d4d4d" stroke-width="1.1"/>
<text transform="translate(395.86 251.3) scale(0.94 1)" font-size="15.3" fill="#4d4d4d">0</text>
<line x1="405.5" y1="214.3" x2="410.5" y2="214.3" stroke="#4d4d4d" stroke-width="1.1"/>
<text transform="translate(383.8 220.2) scale(0.94 1)" font-size="15.3" fill="#4d4d4d">0.2</text>
<line x1="405.5" y1="183.2" x2="410.5" y2="183.2" stroke="#4d4d4d" stroke-width="1.1"/>
<text transform="translate(383.8 189.1) scale(0.94 1)" font-size="15.3" fill="#4d4d4d">0.4</text>
<line x1="405.5" y1="152.1" x2="410.5" y2="152.1" stroke="#4d4d4d" stroke-width="1.1"/>
<text transform="translate(383.8 158) scale(0.94 1)" font-size="15.3" fill="#4d4d4d">0.6</text>
<line x1="405.5" y1="121" x2="410.5" y2="121" stroke="#4d4d4d" stroke-width="1.1"/>
<text transform="translate(383.8 126.9) scale(0.94 1)" font-size="15.3" fill="#4d4d4d">0.8</text>
<line x1="405.5" y1="89.9" x2="410.5" y2="89.9" stroke="#4d4d4d" stroke-width="1.1"/>
<path transform="translate(395.86 95.8) scale(14.46 15.3)" d="M0.125 -0.532L0.125 -0.602C0.205 -0.604 0.283 -0.64 0.298 -0.725L0.376 -0.725L0.376 0L0.287 0L0.287 -0.532Z" fill="#4d4d4d"/><text transform="translate(395.86 95.8) scale(0.94 1)" font-size="15.3" fill="#4d4d4d"> </text>
<line x1="422.6" y1="253.3" x2="422.6" y2="258.8" stroke="#4d4d4d" stroke-width="1.1"/>
<path transform="translate(418.58 271.3) scale(14.46 15.3)" d="M0.125 -0.532L0.125 -0.602C0.205 -0.604 0.283 -0.64 0.298 -0.725L0.376 -0.725L0.376 0L0.287 0L0.287 -0.532Z" fill="#4d4d4d"/><text transform="translate(418.58 271.3) scale(0.94 1)" font-size="15.3" fill="#4d4d4d"> </text>
<line x1="464.2" y1="253.3" x2="464.2" y2="258.8" stroke="#4d4d4d" stroke-width="1.1"/>
<path transform="translate(456.16 271.3) scale(14.46 15.3)" d="M0.125 -0.532L0.125 -0.602C0.205 -0.604 0.283 -0.64 0.298 -0.725L0.376 -0.725L0.376 0L0.287 0L0.287 -0.532Z" fill="#4d4d4d"/><text transform="translate(456.16 271.3) scale(0.94 1)" font-size="15.3" fill="#4d4d4d"> 3</text>
<line x1="505.8" y1="253.3" x2="505.8" y2="258.8" stroke="#4d4d4d" stroke-width="1.1"/>
<text transform="translate(497.76 271.3) scale(0.94 1)" font-size="15.3" fill="#4d4d4d">25</text>
<line x1="547.4" y1="253.3" x2="547.4" y2="258.8" stroke="#4d4d4d" stroke-width="1.1"/>
<text transform="translate(539.36 271.3) scale(0.94 1)" font-size="15.3" fill="#4d4d4d">37</text>
<line x1="589" y1="253.3" x2="589" y2="258.8" stroke="#4d4d4d" stroke-width="1.1"/>
<text transform="translate(580.96 271.3) scale(0.94 1)" font-size="15.3" fill="#4d4d4d">49</text>
<line x1="630.6" y1="253.3" x2="630.6" y2="258.8" stroke="#4d4d4d" stroke-width="1.1"/>
<path transform="translate(630.6 271.3) scale(14.46 15.3)" d="M0.125 -0.532L0.125 -0.602C0.205 -0.604 0.283 -0.64 0.298 -0.725L0.376 -0.725L0.376 0L0.287 0L0.287 -0.532Z" fill="#4d4d4d"/><text transform="translate(622.56 271.3) scale(0.94 1)" font-size="15.3" fill="#4d4d4d">6 </text>
<line x1="672.4" y1="253.3" x2="672.4" y2="258.8" stroke="#4d4d4d" stroke-width="1.1"/>
<path d="M672.5 262.5C673.3 260.6 674.3 259.3 675.4 259.3C676.9 259.3 677.8 260.7 677.8 262.4C677.8 264.2 676.8 265.5 675.4 265.5C674.2 265.5 673.3 264.4 672.5 262.5C671.7 264.5 670.8 265.4 669.6 265.4C668.2 265.4 667.3 264.2 667.3 262.6C667.3 261 668.2 259.9 669.6 259.9C670.8 259.9 671.7 260.6 672.5 262.5Z" fill="none" stroke="#4d4d4d" stroke-width="0.9"/>
<text x="547.7" y="289.3" text-anchor="middle" class="xl" style="font-size:17.8px">SNR(dB)</text>
<text transform="translate(379.6,167.5) rotate(-90)" text-anchor="middle" class="yl">Success Rate</text>
<rect x="72" y="317.2" width="544.8" height="27.7" fill="#e5e5e5"/>
<text x="74.38" y="337.6" font-size="19.5" fill="#111">x</text>
<path transform="translate(83.32 341.1) scale(15.84 13.2)" d="M0.125 -0.532L0.125 -0.602C0.205 -0.604 0.283 -0.64 0.298 -0.725L0.376 -0.725L0.376 0L0.287 0L0.287 -0.532Z" fill="#111"/>
<path transform="translate(113.3 337.6) scale(20 20)" d="M0.125 -0.532L0.125 -0.602C0.205 -0.604 0.283 -0.64 0.298 -0.725L0.376 -0.725L0.376 0L0.287 0L0.287 -0.532Z" fill="#111"/>
<text x="124.42" y="337.6" font-size="20" fill="#111">0</text>
<text x="145.88" y="337.6" font-size="19.5" fill="#111">x</text>
<text transform="translate(155.6 341.1) scale(1.2 1)" font-size="13.2" fill="#111">2</text>
<text x="183.18" y="337.6" font-size="19.5" fill="#111">x</text>
<path transform="translate(192.02 341.1) scale(15.84 13.2)" d="M0.125 -0.532L0.125 -0.602C0.205 -0.604 0.283 -0.64 0.298 -0.725L0.376 -0.725L0.376 0L0.287 0L0.287 -0.532Z" fill="#111"/>
<text x="249.38" y="337.6" font-size="19.5" fill="#111">x</text>
<text transform="translate(259.1 341.1) scale(1.2 1)" font-size="13.2" fill="#111">2</text>
<text x="288.58" y="337.6" font-size="19.5" fill="#111">x</text>
<path transform="translate(297.02 341.1) scale(15.84 13.2)" d="M0.125 -0.532L0.125 -0.602C0.205 -0.604 0.283 -0.64 0.298 -0.725L0.376 -0.725L0.376 0L0.287 0L0.287 -0.532Z" fill="#111"/>
<text x="315.49" y="337.6" font-size="20" fill="#111">2</text>
<text x="327.23" y="337.6" font-size="20" fill="#111">8</text>
<text x="357.68" y="337.6" font-size="19.5" fill="#111">x</text>
<text transform="translate(367.5 341.1) scale(1.2 1)" font-size="13.2" fill="#111">3</text>
<text x="404.08" y="337.6" font-size="19.5" fill="#111">x</text>
<text transform="translate(413.7 341.1) scale(1.2 1)" font-size="13.2" fill="#111">2</text>
<text x="461.58" y="337.6" font-size="19.5" fill="#111">x</text>
<text transform="translate(471.3 341.1) scale(1.2 1)" font-size="13.2" fill="#111">3</text>
<text x="500.88" y="337.6" font-size="19.5" fill="#111">x</text>
<path transform="translate(509.62 341.1) scale(15.84 13.2)" d="M0.125 -0.532L0.125 -0.602C0.205 -0.604 0.283 -0.64 0.298 -0.725L0.376 -0.725L0.376 0L0.287 0L0.287 -0.532Z" fill="#111"/>
<text x="518.38" y="337.6" font-size="19.5" fill="#111">x</text>
<text transform="translate(528.4 341.1) scale(1.2 1)" font-size="13.2" fill="#111">2</text>
<text x="555.73" y="337.6" font-size="20" fill="#111">8</text>
<text x="578.64" y="337.6" font-size="20" fill="#111">3</text>
<text x="590.28" y="337.6" font-size="19.5" fill="#111">x</text>
<text transform="translate(600.4 341.1) scale(1.2 1)" font-size="13.2" fill="#111">3</text>
<circle cx="79.5" cy="324.4" r="1.15" fill="#111"/>
<circle cx="254.2" cy="324.2" r="1.15" fill="#111"/>
<circle cx="466.3" cy="324.2" r="1.15" fill="#111"/>
<rect x="97.9" y="329.9" width="11" height="1.2" fill="#1a1a1a"/>
<rect x="97.9" y="333.9" width="11" height="1.2" fill="#1a1a1a"/>
<rect x="272.6" y="329.9" width="11" height="1.2" fill="#1a1a1a"/>
<rect x="272.6" y="333.9" width="11" height="1.2" fill="#1a1a1a"/>
<rect x="484.8" y="329.9" width="11.1" height="1.2" fill="#1a1a1a"/>
<rect x="484.8" y="333.9" width="11.1" height="1.2" fill="#1a1a1a"/>
<rect x="167.9" y="331.7" width="11" height="1.25" fill="#1a1a1a"/>
<rect x="342.6" y="331.7" width="11" height="1.25" fill="#1a1a1a"/>
<rect x="388.8" y="331.7" width="11" height="1.25" fill="#1a1a1a"/>
<rect x="541.6" y="331.7" width="10.9" height="1.25" fill="#1a1a1a"/>
<circle cx="212.7" cy="336.8" r="1.3" fill="#111"/>
<path d="M213.8 337.2Q213.5 339.6 211.7 340.9" fill="none" stroke="#111" stroke-width="0.8"/>
<circle cx="425.1" cy="336.8" r="1.3" fill="#111"/>
<path d="M426.2 337.2Q425.9 339.6 424.1 340.9" fill="none" stroke="#111" stroke-width="0.8"/>
<circle cx="611.5" cy="336.6" r="1.25" fill="#111"/>
<path d="M144.6 319.2Q131.2 331 144.6 342.8L145.3 342.5Q134.3 331 145.3 319.5Z" fill="#111"/>
<path d="M201.8 319.2Q216 331 201.8 342.8L201.1 342.5Q212.9 331 201.1 319.5Z" fill="#111"/>
<path d="M314.8 319.2Q301.6 331 314.8 342.8L315.5 342.5Q304.7 331 315.5 319.5Z" fill="#111"/>
<path d="M376.8 319.2Q391 331 376.8 342.8L376.1 342.5Q387.9 331 376.1 319.5Z" fill="#111"/>
<path d="M576.4 320.4L569.9 340.6" stroke="#111" stroke-width="1.1"/>
<line x1="28" y1="375.5" x2="45" y2="375.5" stroke="#96913c" stroke-width="1.2"/>
<rect x="29.9" y="368.9" width="13.2" height="13.2" fill="#96913c"/>
<text x="53.65" y="380.3" class="lg">Lasso</text>
<line x1="28" y1="395" x2="45" y2="395" stroke="#7876d0" stroke-width="1.2"/>
<circle cx="36.5" cy="395" r="6.71" fill="#7876d0"/>
<text x="54.57" y="400.1" class="lg">Adaptive Lasso</text>
<line x1="158.5" y1="375.5" x2="175.5" y2="375.5" stroke="#64aa48" stroke-width="1.2"/>
<path d="M167 364.72L176.24 381.44L157.76 381.44Z" fill="#64aa48"/>
<text x="184.36" y="380.3" class="lg">SINDy with AIC</text>
<line x1="158.5" y1="395" x2="175.5" y2="395" stroke="#c45aa5" stroke-width="1.2"/>
<rect x="160.4" y="388.4" width="13.2" height="13.2" fill="#c45aa5"/>
<text x="183.85" y="400.1" class="lg">ESINDy Bagging</text>
<line x1="298.5" y1="375.5" x2="315.5" y2="375.5" stroke="#4aaa8c" stroke-width="1.2"/>
<circle cx="307" cy="375.5" r="6.71" fill="#4aaa8c"/>
<text x="323.85" y="380.3" class="lg">ESINDy Bragging</text>
<line x1="298.5" y1="395" x2="315.5" y2="395" stroke="#cc5454" stroke-width="1.2"/>
<path d="M307 384.22L316.24 400.94L297.76 400.94Z" fill="#cc5454"/>
<text x="323.85" y="400.1" class="lg">Library ESINDy Bagging</text>
<line x1="485" y1="375.5" x2="502" y2="375.5" stroke="#c8803e" stroke-width="1.2"/>
<rect x="486.9" y="368.9" width="13.2" height="13.2" fill="#c8803e"/>
<text x="510.45" y="380.3" class="lg">Library ESINDy Bragging</text>
</svg>
</body></html>
